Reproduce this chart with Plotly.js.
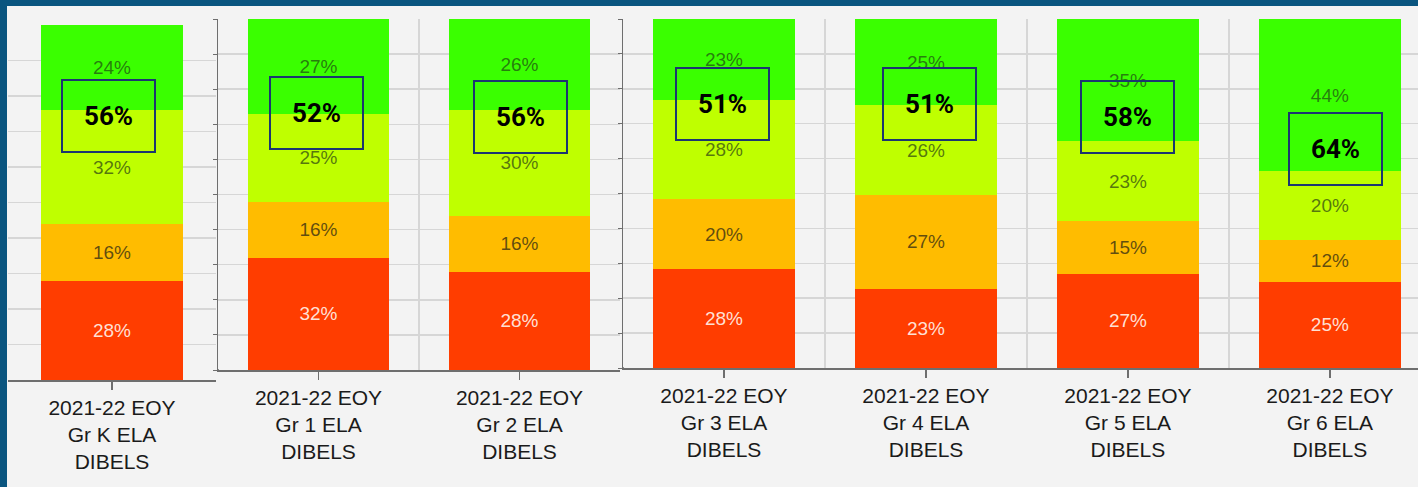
<!DOCTYPE html>
<html>
<head>
<meta charset="utf-8">
<script src="https://cdn.plot.ly/plotly-3.0.1.min.js"></script>
<style>
  html, body { margin: 0; padding: 0; background: #f3f3f3; }
  #chart { width: 1418px; height: 487px; }
</style>
</head>
<body>
<div id="chart"></div>
<script>
// tick labels, one per grade
var gradeLabels = [
  '2021-22 EOY<br>Gr K ELA<br>DIBELS',
  '2021-22 EOY<br>Gr 1 ELA<br>DIBELS',
  '2021-22 EOY<br>Gr 2 ELA<br>DIBELS',
  '2021-22 EOY<br>Gr 3 ELA<br>DIBELS',
  '2021-22 EOY<br>Gr 4 ELA<br>DIBELS',
  '2021-22 EOY<br>Gr 5 ELA<br>DIBELS',
  '2021-22 EOY<br>Gr 6 ELA<br>DIBELS'
];
// percent of students per level (bottom to top)
var wellBelow = [28, 32, 28, 28, 23, 27, 25];
var below     = [16, 16, 16, 20, 27, 15, 12];
var nearBench = [32, 25, 30, 28, 26, 23, 20];
var atAbove   = [24, 27, 26, 23, 25, 35, 44];
// boxed totals
var proficient = [56, 52, 56, 51, 51, 58, 64];

// which of the three pasted panels each grade sits in
var panelOf = [0, 1, 1, 2, 2, 2, 2];

var W = 1418, H = 487;
var axisColor = '#6e6e6e';
var gridColor = '#d6d6d6';
var txtFont = 'Liberation Sans, Arial, sans-serif';

var levels = [
  {vals: wellBelow, color: '#ff3d00', txt: 'rgba(255,236,226,0.95)'},
  {vals: below,     color: '#ffbc00', txt: 'rgba(45,40,20,0.75)'},
  {vals: nearBench, color: '#bfff00', txt: 'rgba(40,60,20,0.7)'},
  {vals: atAbove,   color: '#3aff00', txt: 'rgba(30,70,20,0.7)'}
];

var panels = [
  {x: 'x',  y: 'y',  xd: [8, 216],    yd: [380, 25], range: [-0.5, 0.5],   width: 0.68},
  {x: 'x2', y: 'y2', xd: [218, 620],  yd: [370, 19], range: [-0.5, 1.5],   width: 0.7},
  {x: 'x3', y: 'y3', xd: [623, 1418], yd: [368, 19], range: [-0.5, 3.436], width: 0.7}
];

var traces = [];
panels.forEach(function(p, pi){
  var idx = [];
  for(var i=0; i<panelOf.length; i++){
    if(panelOf[i] === pi){ idx.push(i); }
  }
  levels.forEach(function(lv){
    var yv = idx.map(function(i){ return lv.vals[i]; });
    traces.push({
      type: 'bar',
      x: idx.map(function(_, k){ return k; }),
      y: yv,
      xaxis: p.x, yaxis: p.y,
      width: p.width,
      marker: {color: lv.color, line: {width: 0}},
      text: yv.map(function(v){ return v + '%'; }),
      textposition: 'inside',
      insidetextanchor: 'middle',
      textangle: 0,
      constraintext: 'none',
      textfont: {family: txtFont, size: 19, color: lv.txt},
      hoverinfo: 'skip',
      showlegend: false
    });
  });
});

// box positions (axis units) and small nudges, for the outlined totals
var boxY = [74.4, 73.2, 72.1, 75.6, 75.6, 71.9, 62.8];
var boxShift = [-4, -2, 1, -1, 4, 0, 6];

var annotations = [];
var posInPanel = [0, 0, 1, 0, 1, 2, 3];
for(var i=0; i<proficient.length; i++){
  var p = panels[panelOf[i]];
  annotations.push({
    xref: p.x, yref: p.y,
    x: posInPanel[i], y: boxY[i],
    xshift: boxShift[i],
    text: '<b>' + proficient[i] + '%</b>',
    showarrow: false,
    width: 91, height: 70,
    align: 'center', valign: 'middle',
    bordercolor: '#1c3670', borderwidth: 2, borderpad: 0,
    font: {family: 'Roboto, Arial, sans-serif', size: 26, color: '#000'}
  });
}

var layout = {
  width: W, height: H,
  margin: {l: 0, r: 0, t: 0, b: 0},
  paper_bgcolor: '#f3f3f3',
  plot_bgcolor: '#f3f3f3',
  barmode: 'stack',
  barnorm: 'percent',
  showlegend: false,
  annotations: annotations,
  shapes: [
    // blue frame of the slide
    {type: 'rect', xref: 'paper', yref: 'paper', x0: 0, x1: 7/W, y0: 0, y1: 1,
     fillcolor: '#0a557f', line: {width: 0}, layer: 'above'},
    {type: 'rect', xref: 'paper', yref: 'paper', x0: 0, x1: 1, y0: 1 - 6/H, y1: 1,
     fillcolor: '#0a557f', line: {width: 0}, layer: 'above'},
    // axis end ticks below the category axes
    {type: 'line', xref: 'x', x0: 0.5, x1: 0.5, yref: 'y', ysizemode: 'pixel', yanchor: 0,
     y0: 0, y1: -17, line: {color: axisColor, width: 1.5}},
    {type: 'line', xref: 'x2', x0: -0.5, x1: -0.5, yref: 'y2', ysizemode: 'pixel', yanchor: 0,
     y0: 1, y1: -24, line: {color: axisColor, width: 1.5}},
    {type: 'line', xref: 'x3', x0: -0.5, x1: -0.5, yref: 'y3', ysizemode: 'pixel', yanchor: 0,
     y0: 1, y1: -22, line: {color: axisColor, width: 1.5}}
  ]
};

panels.forEach(function(p, pi){
  var n = pi === 0 ? '' : String(pi + 1);
  var idx = [];
  for(var i=0; i<panelOf.length; i++){
    if(panelOf[i] === pi){ idx.push(i); }
  }
  layout['xaxis' + n] = {
    domain: [p.xd[0]/W, p.xd[1]/W],
    anchor: p.y,
    type: 'linear',
    range: p.range,
    tickmode: 'array',
    tickvals: idx.map(function(_, k){ return k; }),
    ticktext: idx.map(function(i){ return gradeLabels[i]; }),
    ticks: 'outside', ticklen: 8, tickcolor: axisColor, tickwidth: 1.5,
    tickfont: {family: txtFont, size: 21, color: '#1a1a1a'},
    showline: true, linecolor: axisColor, linewidth: 1.5,
    showgrid: false, zeroline: false,
    minor: {tickmode: 'linear', tick0: 0.5, dtick: 1, showgrid: true,
            gridcolor: gridColor, gridwidth: 1.5, ticks: ''},
    fixedrange: true
  };
  layout['yaxis' + n] = {
    domain: [1 - p.yd[0]/H, 1 - p.yd[1]/H],
    anchor: p.x,
    range: [0, 100],
    dtick: 10,
    showgrid: true, gridcolor: gridColor, gridwidth: 1.5,
    showticklabels: false, zeroline: false,
    showline: pi > 0, linecolor: axisColor, linewidth: 1.5,
    ticks: pi > 0 ? 'outside' : '', ticklen: 4, tickcolor: axisColor,
    fixedrange: true
  };
});

Plotly.newPlot('chart', traces, layout, {displayModeBar: false, staticPlot: true});
</script>
</body>
</html>
